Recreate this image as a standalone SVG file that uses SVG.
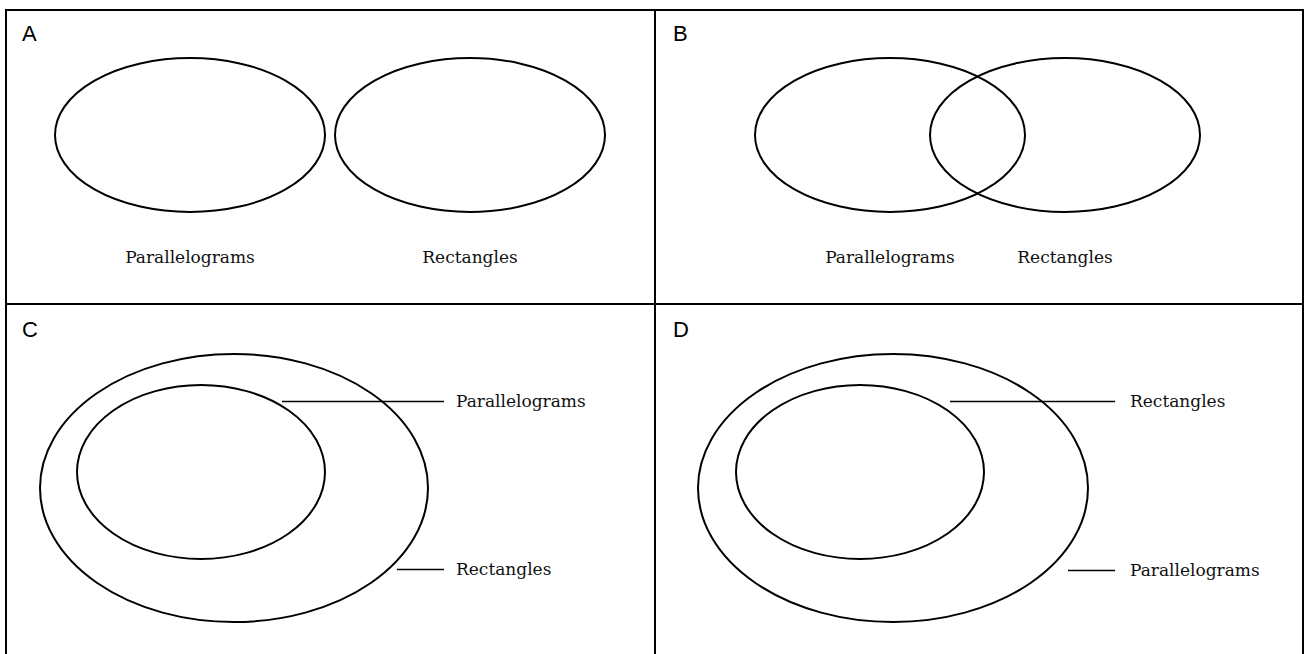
<svg xmlns="http://www.w3.org/2000/svg" width="1306" height="654" viewBox="0 0 1306 654">
<style>
.frame{fill:none;stroke:#000;stroke-width:2}
.set{fill:none;stroke:#000;stroke-width:2}
.lead{stroke:#000;stroke-width:1.5}
.lbl{font-family:"DejaVu Serif","Liberation Serif",serif;font-size:17px;fill:#111}
.panel{font-family:"Liberation Sans",Arial,sans-serif;font-size:22px;fill:#000}
</style>
<rect width="1306" height="654" fill="#fff"/>
<g id="frame">
<path class="frame" d="M6,656 V10 H1303 V656 M6,304 H1303 M655,10 V656"/>
</g>
<g id="panelA">
<text class="panel" x="22" y="41">A</text>
<ellipse class="set" cx="190" cy="135" rx="135" ry="77"/>
<ellipse class="set" cx="470" cy="135" rx="135" ry="77"/>
<text class="lbl" x="190" y="263" text-anchor="middle">Parallelograms</text>
<text class="lbl" x="470" y="263" text-anchor="middle">Rectangles</text>
</g>
<g id="panelB">
<text class="panel" x="673" y="41">B</text>
<ellipse class="set" cx="890" cy="135" rx="135" ry="77"/>
<ellipse class="set" cx="1065" cy="135" rx="135" ry="77"/>
<text class="lbl" x="890" y="263" text-anchor="middle">Parallelograms</text>
<text class="lbl" x="1065" y="263" text-anchor="middle">Rectangles</text>
</g>
<g id="panelC">
<text class="panel" x="22" y="337">C</text>
<ellipse class="set" cx="234" cy="488" rx="194" ry="134"/>
<ellipse class="set" cx="201" cy="472" rx="124" ry="87"/>
<text class="lbl" x="456" y="407">Parallelograms</text>
<text class="lbl" x="456" y="575">Rectangles</text>
</g>
<g id="panelD">
<text class="panel" x="673" y="337">D</text>
<ellipse class="set" cx="893" cy="488" rx="195" ry="134"/>
<ellipse class="set" cx="860" cy="472" rx="124" ry="87"/>
<text class="lbl" x="1130" y="407">Rectangles</text>
<text class="lbl" x="1130" y="576">Parallelograms</text>
</g>
<g id="connectors">
<line class="lead" x1="282" y1="401.5" x2="444" y2="401.5"/>
<line class="lead" x1="397" y1="569.5" x2="444" y2="569.5"/>
<line class="lead" x1="950" y1="401.5" x2="1115" y2="401.5"/>
<line class="lead" x1="1068" y1="570.5" x2="1115" y2="570.5"/>
</g>
</svg>
